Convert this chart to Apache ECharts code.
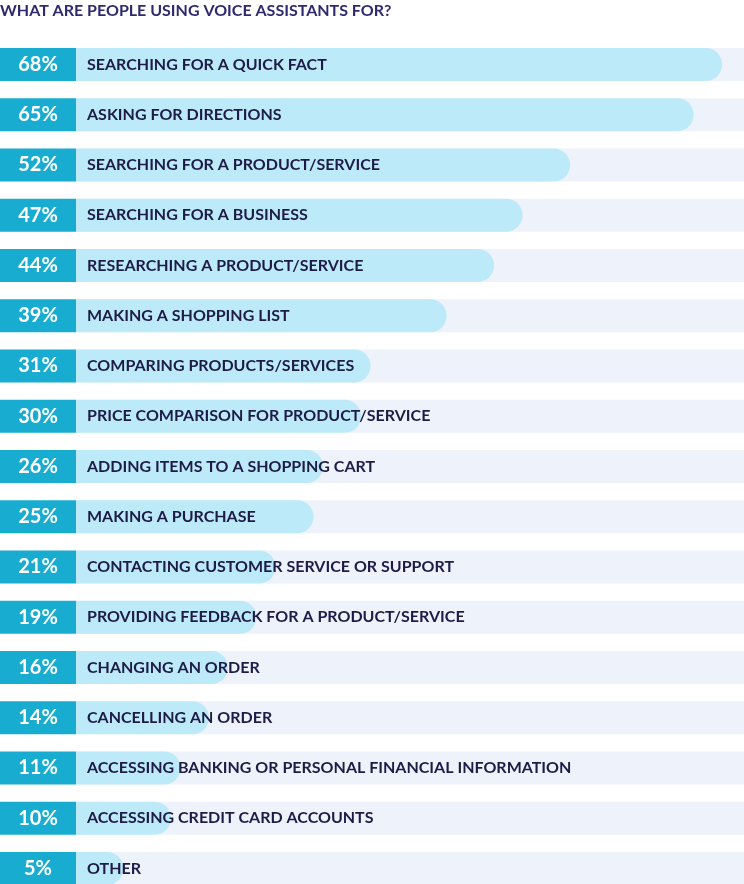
<!DOCTYPE html>
<html>
<head>
<meta charset="utf-8">
<script src="https://cdn.jsdelivr.net/npm/echarts@6/dist/echarts.min.js"></script>
<style>
  html, body { margin: 0; padding: 0; background: #fff; }
  #chart { width: 744px; height: 884px; }
</style>
</head>
<body>
<div id="chart"></div>
<script>
var titleText = 'WHAT ARE PEOPLE USING VOICE ASSISTANTS FOR?';
var activities = [
    'SEARCHING FOR A QUICK FACT',
    'ASKING FOR DIRECTIONS',
    'SEARCHING FOR A PRODUCT/SERVICE',
    'SEARCHING FOR A BUSINESS',
    'RESEARCHING A PRODUCT/SERVICE',
    'MAKING A SHOPPING LIST',
    'COMPARING PRODUCTS/SERVICES',
    'PRICE COMPARISON FOR PRODUCT/SERVICE',
    'ADDING ITEMS TO A SHOPPING CART',
    'MAKING A PURCHASE',
    'CONTACTING CUSTOMER SERVICE OR SUPPORT',
    'PROVIDING FEEDBACK FOR A PRODUCT/SERVICE',
    'CHANGING AN ORDER',
    'CANCELLING AN ORDER',
    'ACCESSING BANKING OR PERSONAL FINANCIAL INFORMATION',
    'ACCESSING CREDIT CARD ACCOUNTS',
    'OTHER'
];
var shares = [68, 65, 52, 47, 44, 39, 31, 30, 26, 25, 21, 19, 16, 14, 11, 10, 5];
var axisMax = 70.3;
var trackValues = activities.map(function () { return axisMax; });

var chart = echarts.init(document.getElementById('chart'));
var option = {
    backgroundColor: '#fff',
    animation: false,
    title: {
        text: titleText,
        left: 0,
        top: 3,
        padding: 0,
        textStyle: {
            fontFamily: 'Lato',
            fontWeight: 'bold',
            fontSize: 16,
            color: '#2f2a70'
        }
    },
    grid: {
        left: 76,
        top: 39.4,
        height: 854.25,
        right: 0,
        outerBoundsMode: 'none',
        containLabel: false
    },
    xAxis: {
        type: 'value',
        min: 0,
        max: axisMax,
        show: false
    },
    yAxis: {
        type: 'category',
        inverse: true,
        data: activities,
        axisLine: { show: false },
        axisTick: { show: false },
        axisLabel: {
            margin: 0,
            formatter: function (value, idx) {
                return '{p|' + shares[idx] + '%}';
            },
            rich: {
                p: {
                    width: 76,
                    height: 33,
                    align: 'center',
                    backgroundColor: '#18acd0',
                    color: '#fff',
                    fontFamily: 'Lato',
                    fontWeight: 'bold',
                    fontSize: 20
                }
            }
        }
    },
    series: [
        {
            name: 'track',
            type: 'bar',
            data: trackValues,
            barWidth: 33,
            silent: true,
            itemStyle: { color: '#eef2fb' }
        },
        {
            name: 'share',
            type: 'bar',
            data: shares,
            barWidth: 33,
            barGap: '-100%',
            itemStyle: {
                color: '#bdeaf9',
                borderRadius: [0, 17, 17, 0]
            },
            label: {
                show: true,
                position: 'insideLeft',
                distance: 11,
                formatter: function (p) { return activities[p.dataIndex]; },
                fontFamily: 'Lato',
                fontWeight: 'bold',
                fontSize: 16,
                color: '#1e1c47'
            }
        }
    ]
};
chart.setOption(option);
</script>
</body>
</html>
